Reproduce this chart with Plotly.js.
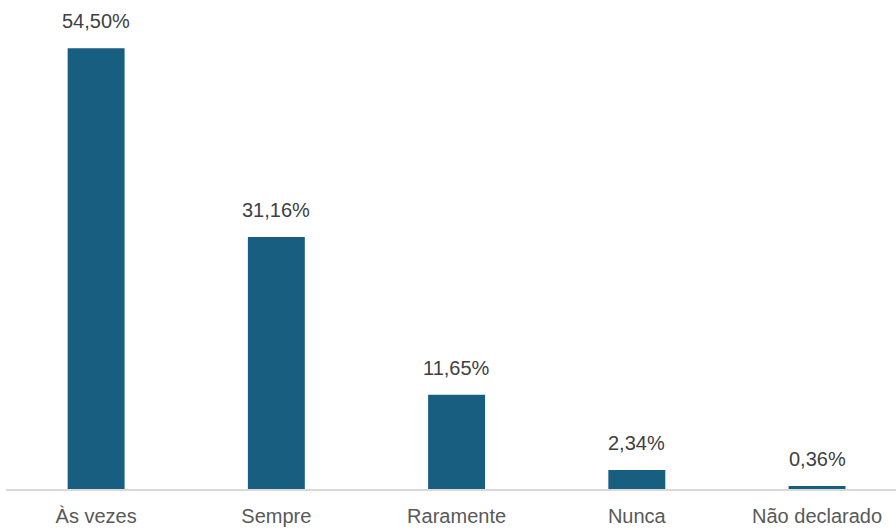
<!DOCTYPE html>
<html><head><meta charset="utf-8">
<script src="https://cdn.plot.ly/plotly-3.0.1.min.js"></script>
<style>html,body{margin:0;padding:0;background:#fff}#chart{width:896px;height:530px}</style>
</head><body><div id="chart"></div>
<script>
const categories = ["Às vezes", "Sempre", "Raramente", "Nunca", "Não declarado"];
const values = [54.50, 31.16, 11.65, 2.34, 0.36];
const labels = values.map(v => v.toFixed(2).replace('.', ',') + '%');

const trace = {
  type: 'bar', x: categories, y: values,
  marker: {color: '#175e80'}, width: 0.316, hoverinfo: 'none'
};
const annotations = categories.map((c, i) => ({
  x: c, y: values[i], xref: 'x', yref: 'y', text: labels[i], showarrow: false,
  yanchor: 'bottom', yshift: 14, font: {family: 'Liberation Sans, Arial, sans-serif', size: 20, color: '#404040'}
}));
const layout = {
  width: 896, height: 530, margin: {l: 6, r: 0, t: 0, b: 41},
  paper_bgcolor: '#fff', plot_bgcolor: '#fff', showlegend: false,
  xaxis: {type: 'category', range: [-0.5, 4.438], showline: true, linecolor: '#d9d9d9', linewidth: 1.5,
    ticks: 'outside', ticklen: 8, tickcolor: 'rgba(0,0,0,0)', showgrid: false,
    tickfont: {family: 'Liberation Sans, Arial, sans-serif', size: 20, color: '#595959'}},
  yaxis: {range: [0, 60.47], visible: false, showgrid: false, zeroline: false},
  annotations: annotations
};
Plotly.newPlot('chart', [trace], layout, {displayModeBar: false, staticPlot: true});
</script></body></html>
